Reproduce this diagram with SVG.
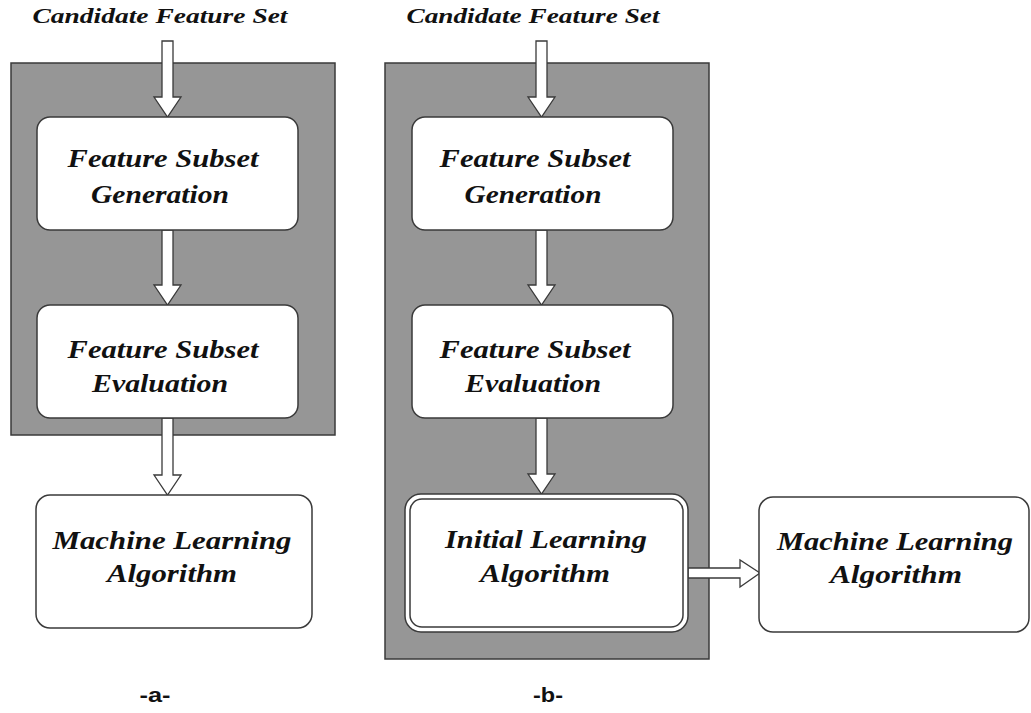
<svg xmlns="http://www.w3.org/2000/svg" width="1031" height="713" viewBox="0 0 1031 713">
<style>
.panel{fill:#969696;stroke:#3a3a3a;stroke-width:1.5}
.box{fill:#fff;stroke:#3a3a3a;stroke-width:1.5}
.arr{fill:#fff;stroke:#3a3a3a;stroke-width:1.3;stroke-linejoin:miter}
.t{font-family:"Liberation Serif",serif;font-weight:bold;font-style:italic;font-size:26px;fill:#111;text-anchor:middle}
.h{font-family:"Liberation Serif",serif;font-weight:bold;font-style:italic;font-size:22px;fill:#111;text-anchor:middle}
.lab{font-family:"Liberation Sans",sans-serif;font-weight:bold;font-size:20px;fill:#111;text-anchor:middle}
</style>
<rect width="1031" height="713" fill="#fff"/>
<rect class="panel" x="11" y="63" width="324" height="372"/>
<rect class="panel" x="385" y="63" width="324" height="596"/>
<text class="h" x="160" y="23" textLength="255" lengthAdjust="spacingAndGlyphs">Candidate Feature Set</text>
<text class="h" x="533" y="23" textLength="253" lengthAdjust="spacingAndGlyphs">Candidate Feature Set</text>
<g id="connectors">
<polygon class="arr" points="162,41 173,41 173,97 181,97 167.5,117 154,97 162,97"/>
<polygon class="arr" points="162,230 173,230 173,285 181,285 167.5,305 154,285 162,285"/>
<polygon class="arr" points="162,418 173,418 173,475 181,475 167.5,495 154,475 162,475"/>
<polygon class="arr" points="536,41 547,41 547,97 555,97 541.5,117 528,97 536,97"/>
<polygon class="arr" points="536,230 547,230 547,285 555,285 541.5,305 528,285 536,285"/>
<polygon class="arr" points="536,418 547,418 547,474 555,474 541.5,494 528,474 536,474"/>
<polygon class="arr" points="688,568 740,568 740,560 760,573 740,587 740,578 688,578"/>
</g>
<g id="gen-a">
<rect class="box" x="37" y="117" width="261" height="113" rx="13"/>
<text class="t" x="163" y="167" textLength="191" lengthAdjust="spacingAndGlyphs">Feature Subset</text>
<text class="t" x="160" y="203" textLength="138" lengthAdjust="spacingAndGlyphs">Generation</text>
</g>
<g id="eval-a">
<rect class="box" x="37" y="305" width="261" height="113" rx="13"/>
<text class="t" x="163" y="358" textLength="191" lengthAdjust="spacingAndGlyphs">Feature Subset</text>
<text class="t" x="160" y="392" textLength="136" lengthAdjust="spacingAndGlyphs">Evaluation</text>
</g>
<g id="ml-a">
<rect class="box" x="36" y="495" width="276" height="133" rx="14"/>
<text class="t" x="172" y="549" textLength="239" lengthAdjust="spacingAndGlyphs">Machine Learning</text>
<text class="t" x="172" y="582" textLength="130" lengthAdjust="spacingAndGlyphs">Algorithm</text>
</g>
<g id="gen-b">
<rect class="box" x="412" y="117" width="261" height="113" rx="13"/>
<text class="t" x="535" y="167" textLength="191" lengthAdjust="spacingAndGlyphs">Feature Subset</text>
<text class="t" x="533" y="203" textLength="137" lengthAdjust="spacingAndGlyphs">Generation</text>
</g>
<g id="eval-b">
<rect class="box" x="412" y="305" width="261" height="113" rx="13"/>
<text class="t" x="535" y="358" textLength="191" lengthAdjust="spacingAndGlyphs">Feature Subset</text>
<text class="t" x="533" y="392" textLength="136" lengthAdjust="spacingAndGlyphs">Evaluation</text>
</g>
<g id="initial-b">
<rect class="box" x="405" y="494" width="283" height="138" rx="16" stroke-width="2"/>
<rect class="box" x="410" y="499" width="273" height="128" rx="12" stroke-width="1.5"/>
<text class="t" x="546" y="548" textLength="202" lengthAdjust="spacingAndGlyphs">Initial Learning</text>
<text class="t" x="545" y="582" textLength="130" lengthAdjust="spacingAndGlyphs">Algorithm</text>
</g>
<g id="ml-b">
<rect class="box" x="759" y="497" width="270" height="135" rx="14"/>
<text class="t" x="895" y="550" textLength="236" lengthAdjust="spacingAndGlyphs">Machine Learning</text>
<text class="t" x="896" y="583" textLength="132" lengthAdjust="spacingAndGlyphs">Algorithm</text>
</g>
<text class="lab" x="155" y="702" textLength="31" lengthAdjust="spacingAndGlyphs">-a-</text>
<text class="lab" x="548" y="702" textLength="30" lengthAdjust="spacingAndGlyphs">-b-</text>
</svg>
